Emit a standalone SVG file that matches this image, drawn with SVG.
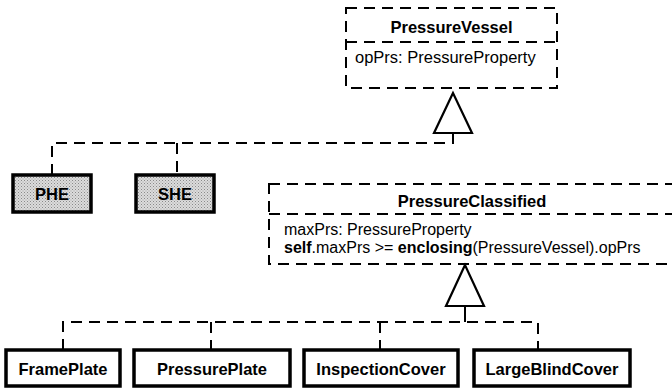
<svg xmlns="http://www.w3.org/2000/svg" width="672" height="389" viewBox="0 0 672 389">
<defs>
<pattern id="stipple" width="3" height="3" patternUnits="userSpaceOnUse">
<rect width="3" height="3" fill="#dcdcdc"/>
<rect x="0" y="0" width="1" height="1" fill="#8a8a8a"/>
<rect x="1.5" y="1.5" width="1" height="1" fill="#a0a0a0"/>
</pattern>
</defs>
<style>
.dash{fill:none;stroke:#000;stroke-width:2;stroke-dasharray:11 7}
.box{fill:#fff;stroke:#000;stroke-width:3.5}
.gbox{fill:url(#stipple);stroke:#000;stroke-width:3.5}
.tri{fill:#fff;stroke:#000;stroke-width:2.2;stroke-linejoin:miter}
.line{fill:none;stroke:#000;stroke-width:2}
.t{font-family:"Liberation Sans",Arial,sans-serif;fill:#000}
.b{font-weight:bold;font-size:16.5px}
.r{font-size:16.5px}
.r2{font-size:16px}
</style>
<g id="PressureVessel">
<rect class="dash" x="346" y="8" width="211" height="80"/>
<line class="dash" x1="346" y1="42" x2="557" y2="42"/>
<text class="t b" x="451.5" y="33" text-anchor="middle">PressureVessel</text>
<text class="t r" x="355" y="63">opPrs: PressureProperty</text>
</g>
<g id="PressureClassified">
<rect class="dash" x="269" y="184" width="420" height="80"/>
<line class="dash" x1="269" y1="214" x2="672" y2="214"/>
<text class="t b" x="472" y="207" text-anchor="middle">PressureClassified</text>
<text class="t r2" x="284" y="235">maxPrs: PressureProperty</text>
<text class="t r2" x="284" y="253"><tspan font-weight="bold">self</tspan>.maxPrs &gt;= <tspan font-weight="bold">enclosing</tspan>(PressureVessel).opPrs</text>
</g>
<g id="PHE">
<rect class="gbox" x="13" y="175" width="78" height="37"/>
<text class="t b" x="52" y="200" text-anchor="middle">PHE</text>
</g>
<g id="SHE">
<rect class="gbox" x="136" y="175" width="78" height="37"/>
<text class="t b" x="175" y="200" text-anchor="middle">SHE</text>
</g>
<g id="FramePlate">
<rect class="box" x="6" y="350" width="114" height="36"/>
<text class="t b" x="63" y="375" text-anchor="middle">FramePlate</text>
</g>
<g id="PressurePlate">
<rect class="box" x="134" y="350" width="156" height="36"/>
<text class="t b" x="212" y="375" text-anchor="middle">PressurePlate</text>
</g>
<g id="InspectionCover">
<rect class="box" x="304" y="350" width="154" height="36"/>
<text class="t b" x="381" y="375" text-anchor="middle">InspectionCover</text>
</g>
<g id="LargeBlindCover">
<rect class="box" x="474" y="350" width="156" height="36"/>
<text class="t b" x="552" y="375" text-anchor="middle">LargeBlindCover</text>
</g>
<g id="connectors">
<polyline class="dash" points="52,175 52,143 453,143 453,133"/>
<line class="dash" x1="177" y1="143" x2="177" y2="175"/>
<polygon class="tri" points="453,93 434,133 472,133"/>
<polyline class="dash" points="63,350 63,322 538,322 538,350"/>
<line class="dash" x1="211" y1="322" x2="211" y2="350"/>
<line class="dash" x1="380" y1="322" x2="380" y2="350"/>
<line class="line" x1="465" y1="306" x2="465" y2="322"/>
<polygon class="tri" points="465,265 446,306 484,306"/>
</g>
</svg>
